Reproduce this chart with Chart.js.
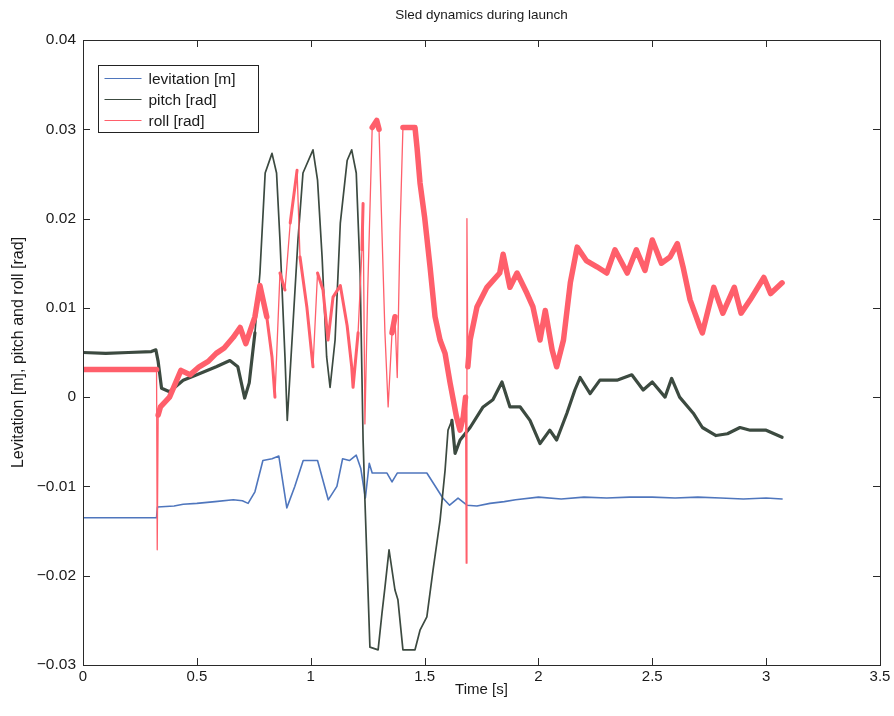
<!DOCTYPE html>
<html>
<head>
<meta charset="utf-8">
<script src="https://cdn.jsdelivr.net/npm/chart.js@4.4.1/dist/chart.umd.min.js"></script>
<style>
  html, body { margin: 0; padding: 0; background: #ffffff; }
  #wrap { width: 894px; height: 716px; }
</style>
</head>
<body>
<div id="wrap"><canvas id="c" width="894" height="716"></canvas></div>
<script>
// ---- data ----
const chartTitle = 'Sled dynamics during launch';
const xAxisTitle = 'Time [s]';
const yAxisTitle = 'Levitation [m], pitch and roll [rad]';
const seriesLabels = ['levitation [m]', 'pitch [rad]', 'roll [rad]'];
const xTicks = [0, 0.5, 1, 1.5, 2, 2.5, 3, 3.5];
const yTicks = [-0.03, -0.02, -0.01, 0, 0.01, 0.02, 0.03, 0.04];

const levT = [0, 0.323, 0.327, 0.40, 0.44, 0.50, 0.58, 0.66, 0.70, 0.725, 0.755, 0.79, 0.83, 0.86, 0.895, 0.93, 0.967, 1.03, 1.077, 1.115, 1.14, 1.17, 1.20, 1.22, 1.24, 1.257, 1.27, 1.335, 1.357, 1.38, 1.51, 1.58, 1.61, 1.647, 1.686, 1.73, 1.787, 1.85, 1.90, 2.0, 2.1, 2.2, 2.3, 2.4, 2.5, 2.6, 2.7, 2.8, 2.9, 3.0, 3.07];
const levV = [-0.0135, -0.0135, -0.0123, -0.0122, -0.0120, -0.0119, -0.0117, -0.0115, -0.0116, -0.0119, -0.0106, -0.0071, -0.0069, -0.0066, -0.0124, -0.0100, -0.0071, -0.0071, -0.0115, -0.0100, -0.0069, -0.0071, -0.0065, -0.0080, -0.0113, -0.0074, -0.0085, -0.0085, -0.0095, -0.0085, -0.0085, -0.0113, -0.0121, -0.0113, -0.0121, -0.0122, -0.0119, -0.0117, -0.0115, -0.0112, -0.0114, -0.0112, -0.0113, -0.0112, -0.0112, -0.0113, -0.0112, -0.0113, -0.0114, -0.0113, -0.0114];

const pitchT = [0, 0.1, 0.2, 0.3, 0.32, 0.33, 0.345, 0.38, 0.44, 0.50, 0.585, 0.645, 0.68, 0.71, 0.73, 0.755, 0.777, 0.80, 0.83, 0.85, 0.865, 0.887, 0.897, 0.918, 0.944, 0.966, 1.01, 1.03, 1.05, 1.07, 1.085, 1.107, 1.13, 1.16, 1.18, 1.20, 1.217, 1.23, 1.238, 1.26, 1.296, 1.313, 1.326, 1.344, 1.37, 1.383, 1.405, 1.458, 1.48, 1.51, 1.537, 1.568, 1.59, 1.603, 1.62, 1.634, 1.656, 1.70, 1.757, 1.80, 1.84, 1.875, 1.92, 1.963, 2.007, 2.05, 2.08, 2.125, 2.16, 2.183, 2.227, 2.27, 2.345, 2.41, 2.46, 2.50, 2.556, 2.585, 2.62, 2.68, 2.72, 2.78, 2.83, 2.885, 2.93, 3.0, 3.07];
const pitchV = [0.0050, 0.0049, 0.0050, 0.0051, 0.0053, 0.0040, 0.0010, 0.0006, 0.0019, 0.0025, 0.0034, 0.0041, 0.0034, -0.0001, 0.0016, 0.0072, 0.0139, 0.0251, 0.0273, 0.0251, 0.0176, 0.0045, -0.0026, 0.0064, 0.0176, 0.0251, 0.0277, 0.0243, 0.0157, 0.0045, 0.0011, 0.0064, 0.0195, 0.0265, 0.0277, 0.0251, 0.0139, -0.0048, -0.0115, -0.0280, -0.0283, -0.0242, -0.0213, -0.0171, -0.0216, -0.0227, -0.0283, -0.0283, -0.0261, -0.0246, -0.0194, -0.0138, -0.0082, -0.0037, -0.0026, -0.0063, -0.0048, -0.0034, -0.0011, -0.0003, 0.0017, -0.0011, -0.0011, -0.0026, -0.0052, -0.0037, -0.0048, -0.0018, 0.0008, 0.0022, 0.0004, 0.0019, 0.0019, 0.0025, 0.0008, 0.0017, 0.0000, 0.0021, 0.0000, -0.0018, -0.0034, -0.0043, -0.0041, -0.0034, -0.0037, -0.0037, -0.0045];

const rollT = [0, 0.1, 0.2, 0.3, 0.323, 0.326, 0.330, 0.34, 0.38, 0.43, 0.47, 0.51, 0.55, 0.585, 0.62, 0.66, 0.69, 0.715, 0.735, 0.755, 0.777, 0.807, 0.83, 0.843, 0.865, 0.887, 0.91, 0.94, 0.953, 0.983, 1.01, 1.03, 1.054, 1.076, 1.098, 1.13, 1.16, 1.18, 1.186, 1.208, 1.225, 1.23, 1.238, 1.25, 1.27, 1.29, 1.30, 1.313, 1.326, 1.34, 1.357, 1.37, 1.38, 1.392, 1.405, 1.458, 1.467, 1.48, 1.50, 1.524, 1.546, 1.568, 1.59, 1.612, 1.64, 1.656, 1.67, 1.68, 1.683, 1.686, 1.69, 1.70, 1.73, 1.774, 1.83, 1.845, 1.875, 1.906, 1.95, 1.976, 2.007, 2.03, 2.06, 2.08, 2.11, 2.14, 2.17, 2.21, 2.257, 2.30, 2.336, 2.39, 2.43, 2.468, 2.50, 2.54, 2.578, 2.61, 2.635, 2.666, 2.71, 2.72, 2.77, 2.81, 2.86, 2.89, 2.93, 2.99, 3.02, 3.07];
const rollV = [0.0031, 0.0031, 0.0031, 0.0031, 0.0031, -0.0171, -0.0020, -0.0011, 0.0000, 0.0030, 0.0025, 0.0034, 0.0040, 0.0049, 0.0055, 0.0067, 0.0078, 0.0060, 0.0075, 0.0090, 0.0125, 0.0090, 0.0045, 0.0000, 0.0139, 0.0120, 0.0195, 0.0254, 0.0157, 0.0101, 0.0034, 0.0139, 0.0120, 0.0064, 0.0112, 0.0125, 0.0080, 0.0034, 0.0011, 0.0072, 0.0165, 0.0217, -0.0030, 0.0116, 0.0302, 0.0310, 0.0300, 0.0184, 0.0072, -0.0011, 0.0072, 0.0090, 0.0022, 0.0184, 0.0302, 0.0302, 0.0279, 0.0240, 0.0202, 0.0146, 0.0090, 0.0064, 0.0049, 0.0016, -0.0022, -0.0037, -0.0022, 0.0000, -0.0186, 0.0200, 0.0034, 0.0064, 0.0101, 0.0123, 0.0139, 0.0160, 0.0123, 0.0139, 0.0116, 0.0101, 0.0064, 0.0097, 0.0053, 0.0034, 0.0064, 0.0128, 0.0168, 0.0153, 0.0146, 0.0139, 0.0165, 0.0139, 0.0165, 0.0142, 0.0176, 0.0150, 0.0157, 0.0172, 0.0146, 0.0109, 0.0078, 0.0072, 0.0123, 0.0094, 0.0123, 0.0094, 0.0109, 0.0134, 0.0116, 0.0128];

const seriesColors = ['#4f76bd', '#3c4a40', '#ff5f6b'];
// -----------------------------------------------

const FONT = "'Liberation Sans', Arial, Helvetica, sans-serif";
function pts(t, v) { return t.map((x, i) => ({ x: x, y: v[i] })); }

// noisy signals look like a thick band; fast swings look like thin strokes
function pitchWidth(ctx) {
  const t = ctx.p0.parsed.x;
  if (t > 0.74 && t < 1.62) return 1.7;
  return 3.2;
}
function rollWidth(ctx) {
  const dx = Math.abs(ctx.p1.x - ctx.p0.x), dy = Math.abs(ctx.p1.y - ctx.p0.y);
  if (dy > 60 && dy > 5 * dx) return 1.3;
  const t = ctx.p0.parsed.x;
  if (t > 0.79 && t < 1.26) return 3;
  return 5.5;
}

const framePlugin = {
  id: 'frame',
  afterDatasetsDraw(chart) {
    const { ctx, chartArea: a, scales } = chart;
    ctx.save();
    ctx.strokeStyle = '#2a2a2a';
    ctx.lineWidth = 1;
    ctx.beginPath();
    const L = 7;
    xTicks.forEach(v => {
      const p = Math.round(scales.x.getPixelForValue(v)) + 0.5;
      ctx.moveTo(p, a.bottom); ctx.lineTo(p, a.bottom - L);
      ctx.moveTo(p, a.top); ctx.lineTo(p, a.top + L);
    });
    yTicks.forEach(v => {
      const p = Math.round(scales.y.getPixelForValue(v)) + 0.5;
      ctx.moveTo(a.left, p); ctx.lineTo(a.left + L, p);
      ctx.moveTo(a.right, p); ctx.lineTo(a.right - L, p);
    });
    ctx.stroke();
    ctx.strokeRect(Math.round(a.left) + 0.5, Math.round(a.top) + 0.5, Math.round(a.right - a.left), Math.round(a.bottom - a.top));

    // legend box (top-left inside plot)
    const bx = a.left + 15.5, by = a.top + 25.5, bw = 160, bh = 67;
    ctx.fillStyle = '#ffffff';
    ctx.fillRect(bx, by, bw, bh);
    ctx.strokeStyle = '#222';
    ctx.strokeRect(bx, by, bw, bh);
    ctx.font = '15.5px ' + FONT;
    ctx.textBaseline = 'middle';
    ctx.textAlign = 'left';
    chart.data.datasets.forEach((ds, i) => {
      const y = by + 13 + i * 21;
      ctx.strokeStyle = ds.borderColor;
      ctx.lineWidth = 1.2;
      ctx.beginPath();
      ctx.moveTo(bx + 6, y); ctx.lineTo(bx + 43, y);
      ctx.stroke();
      ctx.fillStyle = '#1a1a1a';
      ctx.fillText(ds.label, bx + 50, y + 1);
    });
    ctx.restore();
  }
};

const fmtY = v => Math.abs(v) < 1e-9 ? '0' : (v < 0 ? '\u2212' : '') + Math.abs(v).toFixed(2);
const fmtX = v => String(parseFloat(Number(v).toFixed(1)));

new Chart(document.getElementById('c'), {
  type: 'line',
  data: {
    datasets: [
      { label: seriesLabels[0], data: pts(levT, levV), borderColor: seriesColors[0], borderWidth: 1.6, order: 3 },
      { label: seriesLabels[1], data: pts(pitchT, pitchV), borderColor: seriesColors[1], borderWidth: 3,
        segment: { borderWidth: pitchWidth }, order: 2 },
      { label: seriesLabels[2], data: pts(rollT, rollV), borderColor: seriesColors[2], borderWidth: 5,
        segment: { borderWidth: rollWidth }, order: 1 }
    ]
  },
  options: {
    responsive: false,
    animation: false,
    events: [],
    elements: { point: { radius: 0 }, line: { tension: 0, borderJoinStyle: 'round', borderCapStyle: 'round' } },
    layout: { padding: { left: 0, right: 14, top: 0, bottom: 0 } },
    plugins: {
      legend: { display: false },
      tooltip: { enabled: false },
      title: {
        display: true, text: chartTitle, fullSize: false, color: '#1a1a1a',
        font: { family: FONT, size: 13.5, weight: 'normal' },
        padding: { top: 7, bottom: 16.8 }
      }
    },
    scales: {
      x: {
        type: 'linear', min: 0, max: 3.5,
        afterBuildTicks: s => { s.ticks = xTicks.map(v => ({ value: v })); },
        afterFit: s => { s.height = 51; },
        grid: { display: false, drawTicks: false }, border: { display: false },
        ticks: { callback: fmtX, color: '#1a1a1a', padding: 3, maxRotation: 0, font: { family: FONT, size: 15 } },
        title: { display: true, text: xAxisTitle, color: '#1a1a1a', font: { family: FONT, size: 15 }, padding: { top: 0, bottom: 17 } }
      },
      y: {
        type: 'linear', min: -0.03, max: 0.04,
        afterBuildTicks: s => { s.ticks = yTicks.map(v => ({ value: v })); },
        afterFit: s => { s.width = 83; },
        grid: { display: false, drawTicks: false }, border: { display: false },
        ticks: { callback: fmtY, color: '#1a1a1a', padding: 7, font: { family: FONT, size: 15.5 } },
        title: { display: true, text: yAxisTitle, color: '#1a1a1a', font: { family: FONT, size: 16 }, padding: { top: 9, bottom: 0 } }
      }
    }
  },
  plugins: [framePlugin]
});
</script>
</body>
</html>
